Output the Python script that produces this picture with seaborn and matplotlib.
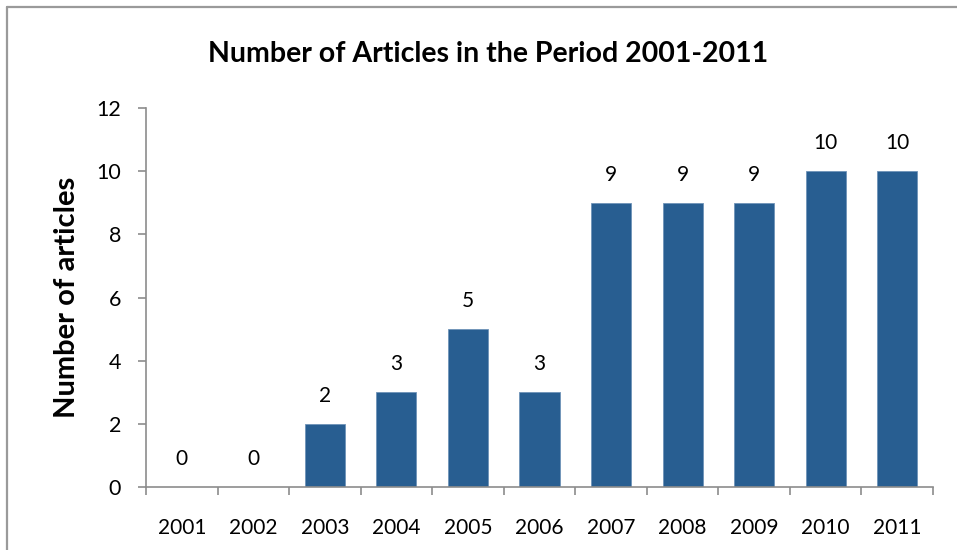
import matplotlib
matplotlib.use("Agg")
import matplotlib.pyplot as plt
from matplotlib.lines import Line2D
import numpy as np
import pandas as pd
import seaborn as sns

years = ["2001", "2002", "2003", "2004", "2005", "2006",
         "2007", "2008", "2009", "2010", "2011"]
articles = [0, 0, 2, 3, 5, 3, 9, 9, 9, 10, 10]
y_ticks = [0, 2, 4, 6, 8, 10, 12]

sns.set_style("white")
plt.rcParams['font.family'] = ['Lato', 'DejaVu Sans']
plt.rcParams['text.color'] = 'black'

df = pd.DataFrame({"year": years, "articles": articles})

fig = plt.figure(figsize=(9.57, 5.50), dpi=100)
ax = fig.add_axes([146 / 957, 1 - 487 / 550, (933 - 146) / 957, (487 - 108) / 550])

sns.barplot(data=df, x="year", y="articles", ax=ax, color="#285E91",
            saturation=1, width=0.56, edgecolor="#6F93B8", linewidth=0.6)

# value labels above bars
for i, v in enumerate(articles):
    ax.annotate(str(v), (i, v), xytext=(0, 20), textcoords="offset points",
                ha="center", va="center", fontsize=15, color="black")

ax.set_ylim(0, 12)
ax.set_xlim(-0.5, len(years) - 0.5)
ax.set_yticks(y_ticks)
ax.tick_params(axis="y", direction="out", length=6, width=1.2, color="#8C8C8C",
               labelsize=15.5, pad=12, left=True, labelcolor="black")
ax.set_xticks(np.arange(len(years)))
ax.set_xticks(np.arange(len(years) + 1) - 0.5, minor=True)
ax.tick_params(axis="x", which="major", length=0, labelsize=15, pad=22,
               labelcolor="black")
ax.tick_params(axis="x", which="minor", direction="out", length=6, width=1.2,
               color="#8C8C8C", bottom=True)

for side in ["top", "right"]:
    ax.spines[side].set_visible(False)
for side in ["left", "bottom"]:
    ax.spines[side].set_color("#8C8C8C")
    ax.spines[side].set_linewidth(1.2)

ax.set_xlabel("")
ax.set_ylabel("Number of articles", fontsize=21, fontweight="bold", color="black")
ax.yaxis.set_label_coords((80 - 146) / (933 - 146), 0.5)
fig.text(488 / 957, 1 - 54 / 550, "Number of Articles in the Period 2001-2011",
         ha="center", va="center", fontsize=20.5, fontweight="bold", color="black")

# chart area border (left and top edges visible)
fig.add_artist(Line2D([7.5 / 957, 7.5 / 957], [0, 1 - 6.5 / 550],
                      color="#9A9A9A", lw=1.6, transform=fig.transFigure))
fig.add_artist(Line2D([7.5 / 957, 1], [1 - 6.5 / 550, 1 - 6.5 / 550],
                      color="#9A9A9A", lw=1.6, transform=fig.transFigure))

fig.savefig("out.png", dpi=100)
